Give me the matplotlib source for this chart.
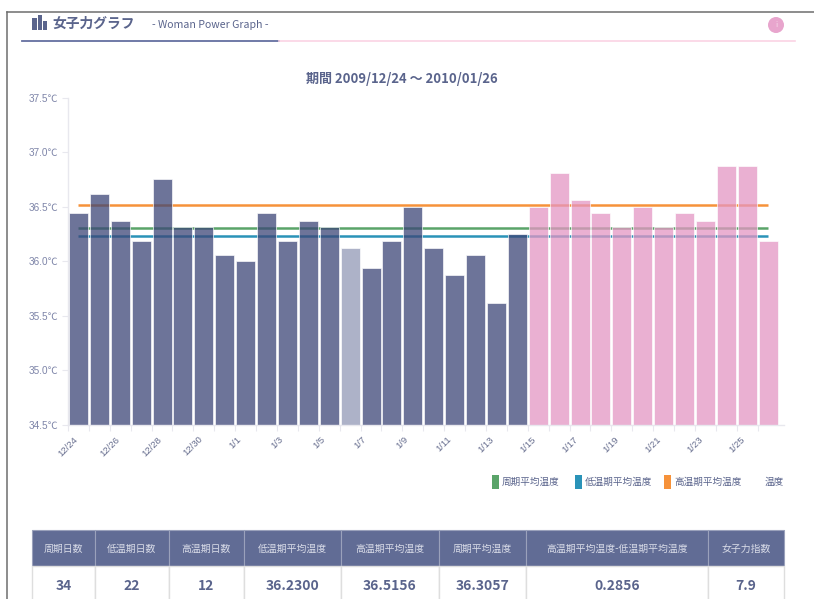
"""女子力グラフ: 基礎体温の棒グラフと集計テーブル"""
import matplotlib
matplotlib.use("Agg")
import matplotlib.pyplot as plt
from matplotlib.patches import Circle, Rectangle
from matplotlib.transforms import ScaledTranslation

plt.rcParams["font.family"] = ["Noto Sans CJK JP", "DejaVu Sans"]

# データ
dates = ["12/24", "12/25", "12/26", "12/27", "12/28", "12/29", "12/30", "12/31",
         "1/1", "1/2", "1/3", "1/4", "1/5", "1/6", "1/7", "1/8", "1/9", "1/10",
         "1/11", "1/12", "1/13", "1/14", "1/15", "1/16", "1/17", "1/18", "1/19",
         "1/20", "1/21", "1/22", "1/23", "1/24", "1/25", "1/26"]
temps = [36.44, 36.62, 36.37, 36.19, 36.75, 36.31, 36.31, 36.06, 36.00, 36.44,
         36.19, 36.37, 36.31, 36.12, 35.94, 36.19, 36.50, 36.12, 35.87, 36.06,
         35.62, 36.25, 36.50, 36.81, 36.56, 36.44, 36.31, 36.50, 36.31, 36.44,
         36.37, 36.87, 36.87, 36.19]
phases = ["low"] * 13 + ["pale"] + ["low"] * 8 + ["high"] * 12
y_ticks = [34.5, 35.0, 35.5, 36.0, 36.5, 37.0, 37.5]

cycle_avg = 36.3057
low_avg = 36.2300
high_avg = 36.5156

legend_labels = ["周期平均温度", "低温期平均温度", "高温期平均温度", "温度"]
table_head = ["周期日数", "低温期日数", "高温期日数", "低温期平均温度", "高温期平均温度",
              "周期平均温度", "高温期平均温度-低温期平均温度", "女子力指数"]
table_vals = ["34", "22", "12", "36.2300", "36.5156", "36.3057", "0.2856", "7.9"]

# 色 (棒は半透明で線の上に重なる)
NAVY = "#5a648c"
BAR_COLORS = {"low": "#3c4677", "pale": "#9298b6", "high": "#e496c3"}
GREEN, BLUE, ORANGE = "#5aa469", "#2a93b8", "#f6923a"
TICK_TEXT = "#7d84a8"
W, H = 814, 599

fig = plt.figure(figsize=(W / 100, H / 100), dpi=100, facecolor="white")

# 外枠・ヘッダー・テーブルはピクセル座標のオーバーレイに描く
page = fig.add_axes([0, 0, 1, 1], zorder=0)
page.set_xlim(0, W)
page.set_ylim(H, 0)
page.axis("off")

page.plot([7, W], [11.5, 11.5], color="#6e6e6e", lw=1.1)
page.plot([7, 7], [11.5, H], color="#6e6e6e", lw=1.1)
page.plot([22, 279], [40.5, 40.5], color="#6570a0", lw=1.3)
page.plot([279, 795], [40.5, 40.5], color="#fbd3e4", lw=1.2)

for x0, top, w in [(32, 18, 4.5), (37.5, 15, 4.5), (43, 21, 4)]:
    page.add_patch(Rectangle((x0, top), w, 30 - top, color=NAVY, lw=0))
page.text(52, 24, "女子力グラフ", fontsize=9.9, fontweight="bold", color=NAVY,
          va="center", ha="left")
page.text(152, 25, "- Woman Power Graph -", fontsize=7.6, color=NAVY,
          va="center", ha="left")
page.add_patch(Circle((776, 25), 8, color="#e8a5cd", lw=0))
page.text(776, 25, "i", fontsize=5.5, color="#f6dcea", va="center", ha="center")
page.text(402, 79, "期間 2009/12/24 ～ 2010/01/26", fontsize=9.4, fontweight="bold",
          color=NAVY, va="center", ha="center")

# 凡例
swatches = [(492, GREEN), (575, BLUE), (664, ORANGE)]
for (sx, col), label in zip(swatches, legend_labels):
    page.add_patch(Rectangle((sx, 474.5), 7, 14, color=col, lw=0))
    page.text(sx + 10, 482, label, fontsize=6.9, color=NAVY, va="center", ha="left")
page.text(765, 482, legend_labels[3], fontsize=6.9, color=NAVY, va="center", ha="left")

# テーブル
col_edges = [32, 95, 169, 244, 341, 439, 526, 708, 784]
HEAD_TOP, HEAD_BOTTOM, ROW_BOTTOM = 530, 566, 610
for i, (head, val) in enumerate(zip(table_head, table_vals)):
    x0, x1 = col_edges[i], col_edges[i + 1]
    page.add_patch(Rectangle((x0, HEAD_TOP), x1 - x0, HEAD_BOTTOM - HEAD_TOP,
                             facecolor="#616c95", edgecolor="#9aa1bb", lw=0.8))
    page.add_patch(Rectangle((x0, HEAD_BOTTOM), x1 - x0, ROW_BOTTOM - HEAD_BOTTOM,
                             facecolor="white", edgecolor="#dedede", lw=1.0))
    page.text((x0 + x1) / 2, 548.5, head, fontsize=7.1, color="#d9dce8",
              va="center", ha="center")
    page.text((x0 + x1) / 2, 586, val, fontsize=10, fontweight="bold", color=NAVY,
              va="center", ha="center")

# グラフ本体
L, R, TOP, BOTTOM = 68, 784, 97.5, 425
ax = fig.add_axes([L / W, 1 - BOTTOM / H, (R - L) / W, (BOTTOM - TOP) / H], zorder=1)
ax.patch.set_alpha(0)

xs = range(len(dates))
for avg, col in [(high_avg, ORANGE), (cycle_avg, GREEN), (low_avg, BLUE)]:
    ax.plot(xs, [avg] * len(dates), color=col, lw=1.8, zorder=1, solid_capstyle="butt")
ax.bar(xs, [t - 34.5 for t in temps], bottom=34.5, width=0.91, zorder=2, alpha=0.75,
       color=[BAR_COLORS[p] for p in phases], edgecolor="#ffffff66", linewidth=0.6)

ax.set_xlim(-0.5, 33.76)
ax.set_ylim(34.5, 37.5)
ax.set_yticks(y_ticks)
ax.set_yticklabels([f"{t:.1f}℃" for t in y_ticks], fontsize=7.2, color=TICK_TEXT,
                   family=["Liberation Sans", "Noto Sans CJK JP"])
ax.set_xticks([i - 0.5 for i in xs])
ax.set_xticklabels([d if i % 2 == 0 else "" for i, d in enumerate(dates)], rotation=45,
                   fontsize=6.8, color="#666d8e", ha="center", va="top",
                   rotation_mode="default",
                   family=["Liberation Sans", "Noto Sans CJK JP"])
shift = ScaledTranslation(6.5 / 72, 1.5 / 72, fig.dpi_scale_trans)
for lab in ax.get_xticklabels():
    lab.set_transform(lab.get_transform() + shift)
ax.tick_params(axis="both", length=4, width=0.8, color="#e8e8ee", pad=3)

for side in ("top", "right"):
    ax.spines[side].set_visible(False)
for side in ("left", "bottom"):
    ax.spines[side].set_color("#e8e8ee")
    ax.spines[side].set_linewidth(1.0)

fig.savefig("out.png", dpi=100)
